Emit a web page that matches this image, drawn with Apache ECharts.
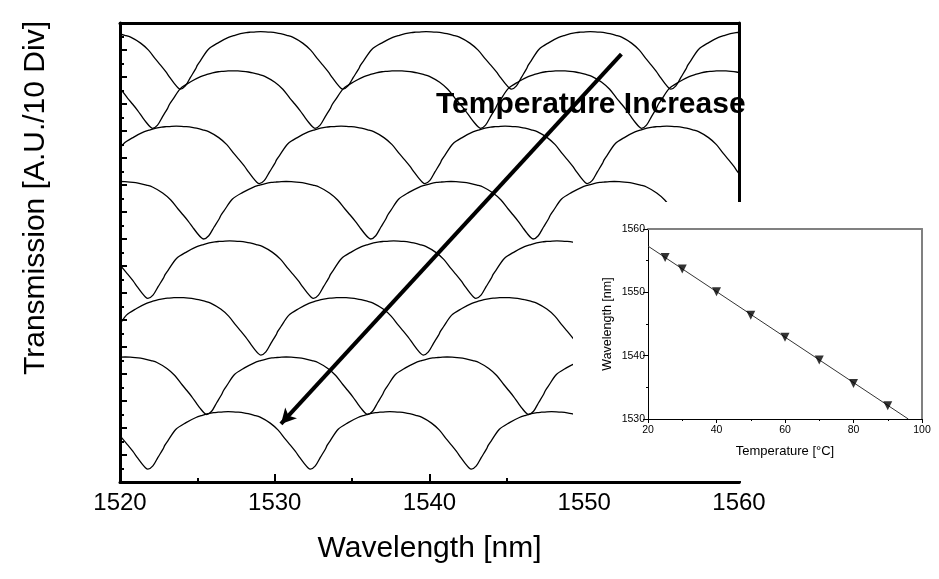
<!DOCTYPE html>
<html><head><meta charset="utf-8">
<script src="https://cdn.jsdelivr.net/npm/echarts@6/dist/echarts.min.js"></script>
<style>html,body{margin:0;padding:0;background:#fff}#c{width:939px;height:579px}</style>
</head><body><div id="c"></div>
<script>
const FONT = "'Liberation Sans', Arial, Helvetica, sans-serif";

// ---- main plot data ----
const xTickValues = [1520, 1530, 1540, 1550, 1560];
const temperatures = [25, 30, 40, 50, 60, 70, 80, 90];
// transmission-dip wavelengths (nm) of each trace (edge ones estimated)
const troughs25 = [1513.5, 1523.9, 1534.4, 1545.3, 1555.6, 1566.0];
const troughs30 = [1511.7, 1522.1, 1532.6, 1543.3, 1553.7, 1564.1];
const troughs40 = [1518.4, 1529.0, 1539.7, 1550.2, 1560.6];
const troughs50 = [1514.7, 1525.4, 1536.2, 1546.7, 1557.3];
const troughs60 = [1511.3, 1521.8, 1532.5, 1543.0, 1553.6];
const troughs70 = [1518.6, 1529.1, 1539.6, 1550.2, 1560.7];
const troughs80 = [1515.2, 1525.6, 1536.0, 1546.4, 1556.8];
const troughs90 = [1511.3, 1521.8, 1532.3, 1542.7, 1553.2];
// level of the dips of each trace (divisions)
const troughLevels = [29.1, 26.2, 22.1, 18.0, 13.6, 9.4, 5.0, 0.95];
// shape of one arch between two dips
const archFraction = [0, 0.031, 0.062, 0.093, 0.105, 0.123, 0.173, 0.235, 0.296, 0.335, 0.370, 0.405, 0.432, 0.465, 0.494, 0.525, 0.556, 0.590, 0.617, 0.655, 0.691, 0.753, 0.802, 0.846, 0.877, 0.907, 0.938, 0.963, 0.985, 1];
const archHeight   = [0, 0.24, 0.87, 1.48, 1.78, 2.10, 2.96, 3.45, 3.83, 3.99, 4.11, 4.19, 4.22, 4.25, 4.26, 4.25, 4.22, 4.17, 4.11, 3.99, 3.85, 3.41, 2.89, 2.22, 1.78, 1.33, 0.81, 0.41, 0.11, 0];
// arrow annotation (data coords)
const arrowStart = [1552.4, 31.7];
const arrowEnd = [1530.4, 4.3];

// ---- inset data ----
const insetTemp = [25, 30, 40, 50, 60, 70, 80, 90];
const insetWave = [1555.5, 1553.7, 1550.1, 1546.4, 1542.9, 1539.3, 1535.6, 1532.1];
const fitTemp = [20, 96];
const fitWave = [1557.3, 1530.0];

const traces = [troughs25, troughs30, troughs40, troughs50, troughs60, troughs70, troughs80, troughs90];

function buildTrace(tr, level) {
  const pts = [];
  for (let i = 0; i < tr.length - 1; i++) {
    const a = tr[i], b = tr[i + 1];
    for (let j = (i === 0 ? 0 : 1); j < archFraction.length; j++) {
      pts.push([a + (b - a) * archFraction[j], level + archHeight[j]]);
    }
  }
  return pts;
}

const series = traces.map((tr, k) => ({
  type: 'line', name: temperatures[k] + ' C', xAxisIndex: 0, yAxisIndex: 0,
  data: buildTrace(tr, troughLevels[k]), showSymbol: false, silent: true, smooth: 0.3,
  lineStyle: { color: '#000', width: 1.3 }, z: 2, clip: true
}));
series[7].markLine = {
  silent: true, symbol: ['none', 'arrow'], symbolSize: [12, 15],
  label: { show: false },
  lineStyle: { color: '#000', width: 4, type: 'solid' },
  data: [[{ coord: arrowStart }, { coord: arrowEnd }]]
};
series.push({
  type: 'line', xAxisIndex: 2, yAxisIndex: 2, z: 21,
  data: fitTemp.map((t, i) => [t, fitWave[i]]), showSymbol: false, silent: true,
  lineStyle: { color: '#333', width: 1 }
});
series.push({
  type: 'scatter', xAxisIndex: 2, yAxisIndex: 2, z: 22,
  data: insetTemp.map((t, i) => [t, insetWave[i]]),
  symbol: 'triangle', symbolRotate: 180, symbolSize: 9, itemStyle: { color: '#000' }
});

const blackLine = w => ({ show: true, onZero: false, lineStyle: { color: '#000', width: w } });
const plain = v => String(v);

const option = {
  animation: false,
  backgroundColor: '#fff',
  textStyle: { fontFamily: FONT },
  grid: [
    { left: 120, right: 200, top: 23, bottom: 97 },
    { left: 648, right: 17, top: 229, bottom: 160 }
  ],
  xAxis: [
    { gridIndex: 0, type: 'value', min: 1520, max: 1560, interval: 10, position: 'bottom',
      axisLine: blackLine(3),
      axisTick: { show: true, inside: true, length: 8, lineStyle: { color: '#000', width: 2 } },
      minorTick: { show: true, splitNumber: 2, length: 4, lineStyle: { color: '#000', width: 2 } },
      splitLine: { show: false },
      axisLabel: { fontSize: 24, color: '#000', margin: 9, fontFamily: FONT,
        formatter: v => xTickValues.includes(v) ? String(v) : '' },
      name: 'Wavelength [nm]', nameLocation: 'middle', nameGap: 52,
      nameTextStyle: { fontSize: 30, color: '#000', fontFamily: FONT } },
    { gridIndex: 0, type: 'value', min: 1520, max: 1560, position: 'top',
      axisLine: blackLine(3), axisTick: { show: false }, axisLabel: { show: false }, splitLine: { show: false } },
    { gridIndex: 1, type: 'value', min: 20, max: 100, interval: 20, position: 'bottom', z: 20,
      axisLine: blackLine(1),
      axisTick: { show: true, length: 4, lineStyle: { color: '#000', width: 1 } },
      minorTick: { show: true, splitNumber: 2, length: 2, lineStyle: { color: '#000', width: 1 } },
      splitLine: { show: false },
      axisLabel: { fontSize: 10.5, color: '#000', margin: 6, fontFamily: FONT, formatter: plain },
      name: 'Temperature [°C]', nameLocation: 'middle', nameGap: 26,
      nameTextStyle: { fontSize: 13, color: '#000', fontFamily: FONT } },
    { gridIndex: 1, type: 'value', min: 20, max: 100, position: 'top', z: 20,
      axisLine: { show: true, onZero: false, lineStyle: { color: '#808080', width: 2 } },
      axisTick: { show: false }, axisLabel: { show: false }, splitLine: { show: false } }
  ],
  yAxis: [
    { gridIndex: 0, type: 'value', min: 0, max: 34, interval: 2, position: 'left',
      axisLine: blackLine(3),
      axisTick: { show: true, inside: true, length: 7, lineStyle: { color: '#000', width: 2 } },
      minorTick: { show: true, splitNumber: 2, length: 4, lineStyle: { color: '#000', width: 2 } },
      axisLabel: { show: false }, splitLine: { show: false } },
    { gridIndex: 0, type: 'value', min: 0, max: 34, position: 'right',
      axisLine: blackLine(3), axisTick: { show: false }, axisLabel: { show: false }, splitLine: { show: false } },
    { gridIndex: 1, type: 'value', min: 1530, max: 1560, interval: 10, position: 'left', z: 20,
      axisLine: blackLine(1),
      axisTick: { show: true, length: 5, lineStyle: { color: '#000', width: 1 } },
      minorTick: { show: true, splitNumber: 2, length: 2, lineStyle: { color: '#000', width: 1 } },
      axisLabel: { fontSize: 10.5, color: '#000', margin: 3, fontFamily: FONT, formatter: plain },
      splitLine: { show: false },
      name: 'Wavelength [nm]', nameLocation: 'middle', nameGap: 34, nameRotate: 90,
      nameTextStyle: { fontSize: 12.5, color: '#000', fontFamily: FONT } },
    { gridIndex: 1, type: 'value', min: 1530, max: 1560, position: 'right', z: 20,
      axisLine: { show: true, onZero: false, lineStyle: { color: '#808080', width: 2 } },
      axisTick: { show: false }, axisLabel: { show: false }, splitLine: { show: false } }
  ],
  graphic: [
    { type: 'rect', z: 10, silent: true, shape: { x: 573, y: 202, width: 366, height: 279 }, style: { fill: '#fff' } },
    { type: 'text', z: 30, silent: true, x: 436, y: 105,
      style: { text: 'Temperature Increase', fontSize: 30, fontWeight: 'bold', fontFamily: FONT,
        fill: '#000', align: 'left', verticalAlign: 'middle' } },
    { type: 'text', z: 30, silent: true, x: 36, y: 198, rotation: Math.PI / 2,
      style: { text: 'Transmission [A.U./10 Div]', fontSize: 30, fontFamily: FONT,
        fill: '#000', align: 'center', verticalAlign: 'middle' } }
  ],
  series: series
};

const chart = echarts.init(document.getElementById('c'), null, { renderer: 'canvas' });
chart.setOption(option);
</script>
</body></html>
